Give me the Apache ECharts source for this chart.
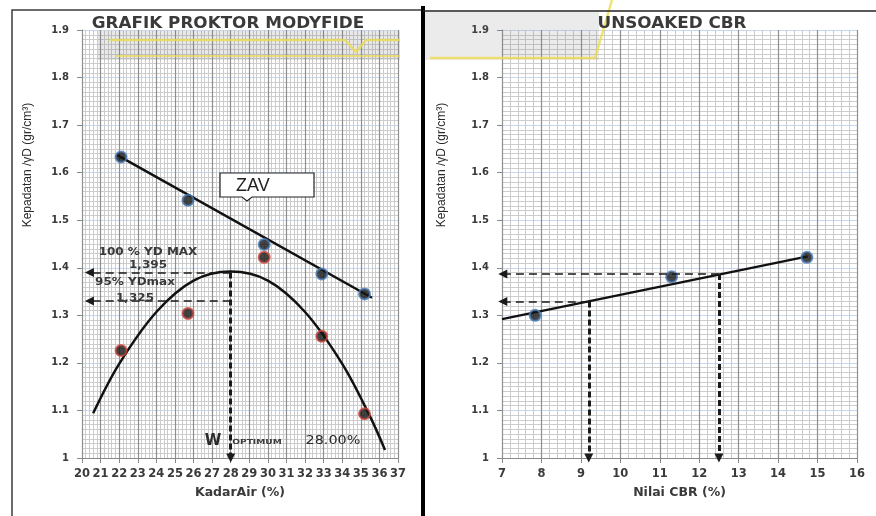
<!DOCTYPE html>
<html><head><meta charset="utf-8">
<script src="https://cdn.jsdelivr.net/npm/echarts@6/dist/echarts.min.js"></script>
<style>html,body{margin:0;padding:0;background:#fff}#c{width:876px;height:516px}</style>
</head><body><div id="c"></div>
<script>
// ---- data ----
const densityTicks = [1, 1.1, 1.2, 1.3, 1.4, 1.5, 1.6, 1.7, 1.8, 1.9];
const waterTicks = [20,21,22,23,24,25,26,27,28,29,30,31,32,33,34,35,36,37];
const cbrTicks = [7,8,9,10,11,12,13,14,15,16];

const zavWater = [22.1, 25.7, 29.8, 32.9, 35.2];
const zavDensity = [1.633, 1.542, 1.449, 1.387, 1.345];
const zavTrendWater = [21.9, 35.6];
const zavTrendDensity = [1.637, 1.337];

const proctorWater = [22.1, 25.7, 29.8, 32.9, 35.2];
const proctorDensity = [1.226, 1.304, 1.422, 1.256, 1.093];
const curveWater = [20.6, 22, 24, 26, 28, 30, 32, 34, 35.5, 36.3];
const curveDensity = [1.094, 1.198, 1.307, 1.373, 1.392, 1.373, 1.307, 1.198, 1.087, 1.017];

const optimumWater = 28;
const ydMaxLine = 1.39;
const yd95Line = 1.33;
const arrowLeftWater = 20.4;

const cbrValues = [7.84, 11.3, 14.73];
const cbrDensity = [1.30, 1.381, 1.422];
const cbrTrendX = [7, 14.75];
const cbrTrendY = [1.292, 1.424];
const cbrAt100 = 12.5;
const cbrAt95 = 9.2;
const ydMaxLineR = 1.387;
const yd95LineR = 1.329;
const arrowLeftCbr = 7.02;

// ---- helpers ----
const zip = (xs, ys) => xs.map((x, i) => [x, ys[i]]);
const TXT = '#3a3a3a';
const F = 'DejaVu Sans';

function xAxisCfg(idx, ticks, name) {
  return {
    type: 'value', gridIndex: idx, min: ticks[0], max: ticks[ticks.length - 1], interval: 1, z: 1,
    name: name, nameLocation: 'middle', nameGap: 28,
    nameTextStyle: { fontFamily: F, fontWeight: 'bold', fontSize: 12.5, color: TXT },
    axisLine: { show: true, onZero: false, lineStyle: { color: '#8a8a8a', width: 1 } },
    axisTick: { show: true, length: 5, lineStyle: { color: '#8a8a8a' } },
    axisLabel: { show: true, margin: 10, fontFamily: F, fontWeight: 'bold', fontSize: 11.5, color: TXT, showMinLabel: true, showMaxLabel: true, interval: 0, hideOverlap: false },
    splitLine: { show: true, lineStyle: { color: '#8f8f8f', width: 1.2 } },
    minorTick: { show: false, splitNumber: 5 },
    minorSplitLine: { show: true, lineStyle: { color: '#cccccc', width: 1 } }
  };
}
function yAxisCfg(idx) {
  return {
    type: 'value', gridIndex: idx, min: densityTicks[0], max: densityTicks[densityTicks.length - 1], interval: 0.1, z: 0,
    axisLine: { show: true, onZero: false, lineStyle: { color: '#8a8a8a', width: 1 } },
    axisTick: { show: true, length: 5, lineStyle: { color: '#8a8a8a' } },
    axisLabel: { show: true, margin: 13, fontFamily: F, fontWeight: 'bold', fontSize: 10, color: TXT,
      formatter: v => String(Math.round(v * 10) / 10) },
    splitLine: { show: true, lineStyle: { color: '#c6d9f1', width: 1.2 } },
    minorTick: { show: false, splitNumber: 10 },
    minorSplitLine: { show: true, lineStyle: { color: '#cdcdcd', width: 1 } }
  };
}
const hDash = { color: '#1a1a1a', width: 1.6, type: [8, 5] };
const vDash = { color: '#1a1a1a', width: 3, type: [6, 3] };
const mlBase = { silent: true, animation: false, label: { show: false }, symbol: ['none', 'triangle'], symbolSize: 9 };

const option = {
  animation: false,
  backgroundColor: '#ffffff',
  grid: [
    { left: 82, top: 30, width: 316, height: 428, containLabel: false },
    { left: 502, top: 30, width: 355, height: 428, containLabel: false }
  ],
  xAxis: [xAxisCfg(0, waterTicks, 'KadarAir (%)'), xAxisCfg(1, cbrTicks, 'Nilai CBR (%)')],
  yAxis: [yAxisCfg(0), yAxisCfg(1)],
  series: [
    { type: 'line', xAxisIndex: 0, yAxisIndex: 0, data: zip(zavTrendWater, zavTrendDensity), showSymbol: false, symbol: 'none',
      lineStyle: { color: '#111', width: 2.5 }, z: 3 },
    { type: 'line', xAxisIndex: 0, yAxisIndex: 0, data: zip(curveWater, curveDensity), smooth: 0.35, showSymbol: false, symbol: 'none',
      lineStyle: { color: '#111', width: 2.5 }, z: 3,
      markLine: Object.assign({}, mlBase, { lineStyle: hDash, data: [
        [{ coord: [optimumWater, ydMaxLine] }, { coord: [arrowLeftWater, ydMaxLine] }],
        [{ coord: [optimumWater, yd95Line] }, { coord: [arrowLeftWater, yd95Line] }],
        [{ coord: [optimumWater, ydMaxLine] }, { coord: [optimumWater, densityTicks[0]], lineStyle: vDash }]
      ] }) },
    { type: 'scatter', xAxisIndex: 0, yAxisIndex: 0, data: zip(zavWater, zavDensity), symbolSize: 11,
      itemStyle: { color: '#151515', borderColor: '#4a7ebb', borderWidth: 2 }, z: 4 },
    { type: 'scatter', xAxisIndex: 0, yAxisIndex: 0, data: zip(proctorWater, proctorDensity), symbolSize: 11,
      itemStyle: { color: '#151515', borderColor: '#d0473f', borderWidth: 2 }, z: 4 },

    { type: 'line', xAxisIndex: 1, yAxisIndex: 1, data: zip(cbrTrendX, cbrTrendY), showSymbol: false, symbol: 'none',
      lineStyle: { color: '#111', width: 2.5 }, z: 3,
      markLine: Object.assign({}, mlBase, { lineStyle: hDash, data: [
        [{ coord: [cbrAt100, ydMaxLineR] }, { coord: [arrowLeftCbr, ydMaxLineR] }],
        [{ coord: [cbrAt95, yd95LineR] }, { coord: [arrowLeftCbr, yd95LineR] }],
        [{ coord: [cbrAt100, ydMaxLineR] }, { coord: [cbrAt100, densityTicks[0]], lineStyle: vDash }],
        [{ coord: [cbrAt95, yd95LineR] }, { coord: [cbrAt95, densityTicks[0]], lineStyle: vDash }]
      ] }) },
    { type: 'scatter', xAxisIndex: 1, yAxisIndex: 1, data: zip(cbrValues, cbrDensity), symbolSize: 11,
      itemStyle: { color: '#151515', borderColor: '#4a7ebb', borderWidth: 2 }, z: 4 }
  ],
  graphic: [
    // watermark approximation
    { type: 'rect', shape: { x: 98, y: 31, width: 302, height: 29 }, style: { fill: 'rgba(110,110,110,0.16)' }, z: 50, silent: true },
    { type: 'rect', shape: { x: 424, y: 12, width: 175, height: 48 }, style: { fill: 'rgba(110,110,110,0.14)' }, z: 50, silent: true },
    { type: 'polyline', shape: { points: [[110, 40], [345, 40], [356, 52], [366, 40], [400, 40]] }, style: { stroke: 'rgba(235,220,80,0.8)', lineWidth: 2.5, fill: 'none' }, z: 51, silent: true },
    { type: 'polyline', shape: { points: [[115, 56], [400, 56]] }, style: { stroke: 'rgba(235,220,80,0.7)', lineWidth: 2, fill: 'none' }, z: 51, silent: true },
    { type: 'polyline', shape: { points: [[612, 0], [595, 58], [430, 58]] }, style: { stroke: 'rgba(235,220,80,0.8)', lineWidth: 2.5, fill: 'none' }, z: 51, silent: true },

    // frames
    { type: 'rect', shape: { x: 12, y: 10, width: 410, height: 520 }, style: { fill: 'none', stroke: '#3c3c3c', lineWidth: 1.5 }, z: 60, silent: true },
    { type: 'line', shape: { x1: 423, y1: 6, x2: 423, y2: 516 }, style: { stroke: '#000', lineWidth: 4 }, z: 61, silent: true },
    { type: 'line', shape: { x1: 423, y1: 11, x2: 876, y2: 11 }, style: { stroke: '#222', lineWidth: 1.5 }, z: 61, silent: true },

    // titles
    { type: 'text', x: 228, y: 24, scaleX: 1.12, z: 70, style: { text: 'GRAFIK PROKTOR MODYFIDE', fontFamily: F, fontWeight: 'bold', fontSize: 15, fill: '#3a3a3a', align: 'center', verticalAlign: 'middle' } },
    { type: 'text', x: 672, y: 24, scaleX: 1.12, z: 70, style: { text: 'UNSOAKED CBR', fontFamily: F, fontWeight: 'bold', fontSize: 15, fill: '#3a3a3a', align: 'center', verticalAlign: 'middle' } },

    // y axis names
    { type: 'text', x: 28, y: 165, rotation: Math.PI / 2, z: 70, style: { text: 'Kepadatan /γD (gr/cm³)', fontFamily: 'Liberation Sans Narrow, Liberation Sans', fontSize: 12, fill: '#2a2a2a', align: 'center', verticalAlign: 'middle' } },
    { type: 'text', x: 442, y: 165, rotation: Math.PI / 2, z: 70, style: { text: 'Kepadatan /γD (gr/cm³)', fontFamily: 'Liberation Sans Narrow, Liberation Sans', fontSize: 12, fill: '#2a2a2a', align: 'center', verticalAlign: 'middle' } },

    // annotations (left)
    { type: 'text', x: 148, y: 252, scaleX: 1.2, z: 70, style: { text: '100 % YD MAX', fontFamily: F, fontWeight: 'bold', fontSize: 10, fill: '#3a3a3a', align: 'center', verticalAlign: 'middle' } },
    { type: 'text', x: 148, y: 265, scaleX: 1.2, z: 70, style: { text: '1,395', fontFamily: F, fontWeight: 'bold', fontSize: 10, fill: '#3a3a3a', align: 'center', verticalAlign: 'middle' } },
    { type: 'text', x: 135, y: 282, scaleX: 1.2, z: 70, style: { text: '95% YDmax', fontFamily: F, fontWeight: 'bold', fontSize: 10, fill: '#3a3a3a', align: 'center', verticalAlign: 'middle' } },
    { type: 'text', x: 135, y: 298, scaleX: 1.2, z: 70, style: { text: '1,325', fontFamily: F, fontWeight: 'bold', fontSize: 10, fill: '#3a3a3a', align: 'center', verticalAlign: 'middle' } },
    { type: 'text', x: 213, y: 441, z: 70, style: { text: 'W', fontFamily: F, fontWeight: 'bold', fontSize: 15, fill: '#2a2a2a', align: 'center', verticalAlign: 'middle' } },
    { type: 'text', x: 257, y: 442, scaleX: 1.3, z: 70, style: { text: 'OPTIMUM', fontFamily: F, fontWeight: 'bold', fontSize: 7, fill: '#3a3a3a', align: 'center', verticalAlign: 'middle' } },
    { type: 'text', x: 333, y: 441, scaleX: 1.2, z: 70, style: { text: '28.00%', fontFamily: F, fontSize: 12, fill: '#2a2a2a', align: 'center', verticalAlign: 'middle' } },

    // ZAV callout
    { type: 'polygon', z: 65, shape: { points: [[220, 173], [314, 173], [314, 197], [252, 197], [247, 201], [242, 197], [220, 197]] },
      style: { fill: '#ffffff', stroke: '#222', lineWidth: 1.2 } },
    { type: 'text', x: 236, y: 186, z: 70, style: { text: 'ZAV', fontFamily: 'Liberation Sans', fontSize: 18, fill: '#222', align: 'left', verticalAlign: 'middle' } }
  ]
};
const chart = echarts.init(document.getElementById('c'), null, { renderer: 'canvas' });
chart.setOption(option);
</script>
</body></html>
